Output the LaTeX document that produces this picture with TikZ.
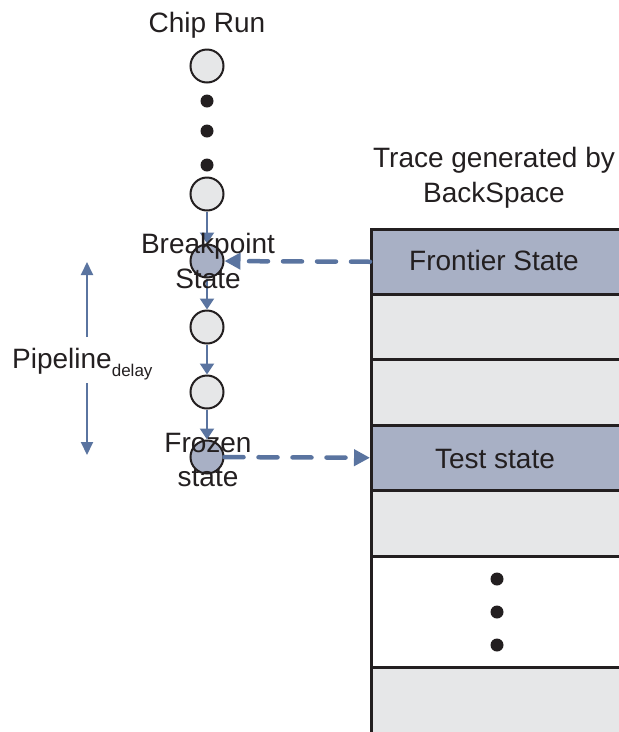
\documentclass[tikz,border=0pt]{standalone}
\usepackage{fontspec}
\setmainfont{Liberation Sans}
\usetikzlibrary{arrows.meta}
\definecolor{ink}{HTML}{231F20}
\definecolor{bluefill}{HTML}{A8B0C5}
\definecolor{grayfill}{HTML}{E6E7E8}
\definecolor{arrowc}{HTML}{5A74A0}
\begin{document}
\begin{tikzpicture}[x=1pt,y=-1pt,
  state/.style={circle,draw=ink,line width=2pt,fill=grayfill,minimum size=33pt,inner sep=0pt},
  hot/.style={state,fill=bluefill},
  blob/.style={circle,fill=ink,minimum size=13pt,inner sep=0pt},
  lbl/.style={font=\fontsize{28}{34}\selectfont,text=ink,inner sep=0pt,anchor=base},
  row/.style={draw=ink,line width=2.5pt,minimum width=249pt,inner sep=0pt,anchor=north west},
  flow/.style={draw=arrowc,line width=2pt,-{Triangle[length=11pt,width=14pt]}},
  span/.style={draw=arrowc,line width=2pt,-{Triangle[length=13pt,width=12pt]}},
  dflow/.style={draw=arrowc,line width=4.5pt,line cap=round,dash pattern=on 19pt off 15pt,-{Triangle[length=16pt,width=16pt]}}
]
\useasboundingbox (0,0) rectangle (619,732);

% table of trace rows
\node[row,fill=bluefill,minimum height=65pt] (r1) at (370,228) {};
\node[row,fill=grayfill,minimum height=65pt] (r2) at (370,293) {};
\node[row,fill=grayfill,minimum height=66pt] (r3) at (370,358) {};
\node[row,fill=bluefill,minimum height=65pt] (r4) at (370,424) {};
\node[row,fill=grayfill,minimum height=66pt] (r5) at (370,489) {};
\node[row,fill=white,minimum height=111pt] (r6) at (370,555) {};
\node[row,fill=grayfill,minimum height=66pt] (r7) at (370,666) {};

\node[lbl] (tfront) at (494,270) {Frontier State};
\node[lbl] (ttest) at (495,468) {Test state};
\node[blob] (e1) at (497,579) {};
\node[blob] (e2) at (497,612) {};
\node[blob] (e3) at (497,645) {};

\node[lbl] (ttrace1) at (494,167) {Trace generated by};
\node[lbl] (ttrace2) at (494,202) {BackSpace};

% chip run column
\node[lbl] (tchip) at (207,32) {Chip Run};
\node[state] (c1) at (207,66) {};
\node[blob] (d1) at (207,101) {};
\node[blob] (d2) at (207,131) {};
\node[blob] (d3) at (207,165) {};
\node[state] (c2) at (207,194) {};
\node[hot] (bp) at (207,261) {};
\node[state] (c3) at (207,327) {};
\node[state] (c4) at (207,392) {};
\node[hot] (fz) at (207,457) {};

\draw[flow] (c2) -- (bp);
\draw[flow] (bp) -- (c3);
\draw[flow] (c3) -- (c4);
\draw[flow] (c4) -- (fz);

\node[lbl] (tbp1) at (208,253) {Breakpoint};
\node[lbl] (tbp2) at (208,288) {State};
\node[lbl] (tfz1) at (208,452) {Frozen};
\node[lbl] (tfz2) at (208,486) {state};

\draw[dflow] (r1.west) -- (bp);
\draw[dflow] (fz) -- (r4.west);

% pipeline delay
\node[lbl,anchor=base west] (tpipe) at (12,368) {Pipeline\raisebox{-8pt}{\fontsize{17}{17}\selectfont delay}};
\coordinate (pu) at (87,262);
\coordinate (pd) at (87,455);
\coordinate (pa) at (87,337);
\coordinate (pb) at (87,383);
\draw[span] (pa) -- (pu);
\draw[span] (pb) -- (pd);
\end{tikzpicture}
\end{document}
